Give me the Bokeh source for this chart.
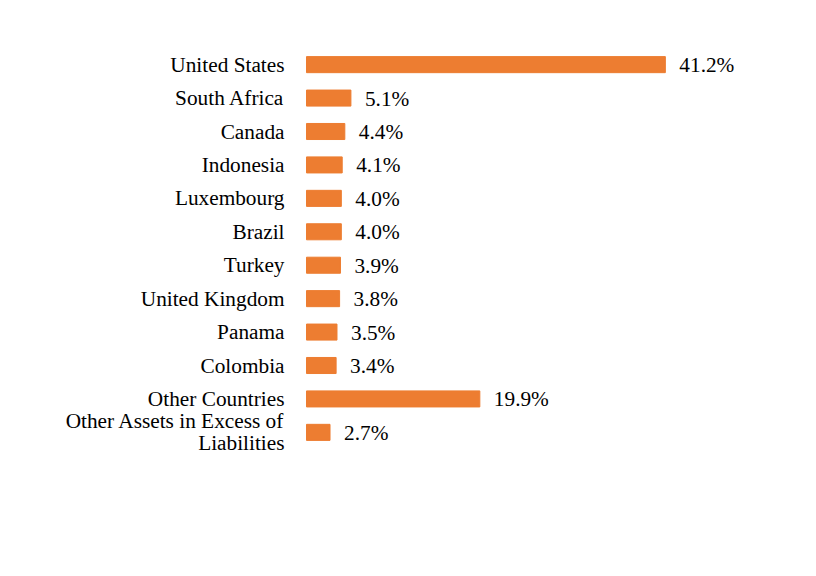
from bokeh.plotting import figure
from bokeh.models import FactorRange, ColumnDataSource, Range1d
from bokeh.core.properties import value
from bokeh.embed import file_html
from bokeh.resources import INLINE

countries = ["United States", "South Africa", "Canada", "Indonesia", "Luxembourg",
             "Brazil", "Turkey", "United Kingdom", "Panama", "Colombia",
             "Other Countries", "Other Assets in Excess of\nLiabilities"]
values = [41.2, 5.1, 4.4, 4.1, 4.0, 4.0, 3.9, 3.8, 3.5, 3.4, 19.9, 2.7]
labels = ["%.1f%%" % v for v in values]

src = ColumnDataSource(dict(cat=countries, val=values, lab=labels, zero=[0] * len(values)))

ppu = 8.71  # pixels per percentage unit
p = figure(width=816, height=576, output_backend="svg", toolbar_location=None,
           y_range=FactorRange(factors=list(reversed(countries)), range_padding=1,
                               range_padding_units="absolute"),
           x_range=Range1d(-306 / ppu, 510 / ppu),
           min_border_left=0, min_border_right=0, min_border_top=14, min_border_bottom=94)
p.hbar(y="cat", right="val", left=0, height=0.48, source=src, color="#ED7D31")
p.text(x="val", y="cat", text="lab", source=src, x_offset=14, y_offset=0.5,
       text_baseline="middle", text_align="left",
       text_font=value("Liberation Serif"), text_font_size="21.3px", text_color="#000000")
p.text(x="zero", y="cat", text="cat", source=src, x_offset=-22, y_offset=0,
       text_baseline="middle", text_align="right", text_line_height=0.92,
       text_font=value("Liberation Serif"), text_font_size="21.3px", text_color="#000000")

p.xaxis.visible = False
p.yaxis.visible = False
p.xgrid.visible = False
p.ygrid.visible = False
p.outline_line_color = None

open("out.html", "w").write(file_html(p, INLINE))
